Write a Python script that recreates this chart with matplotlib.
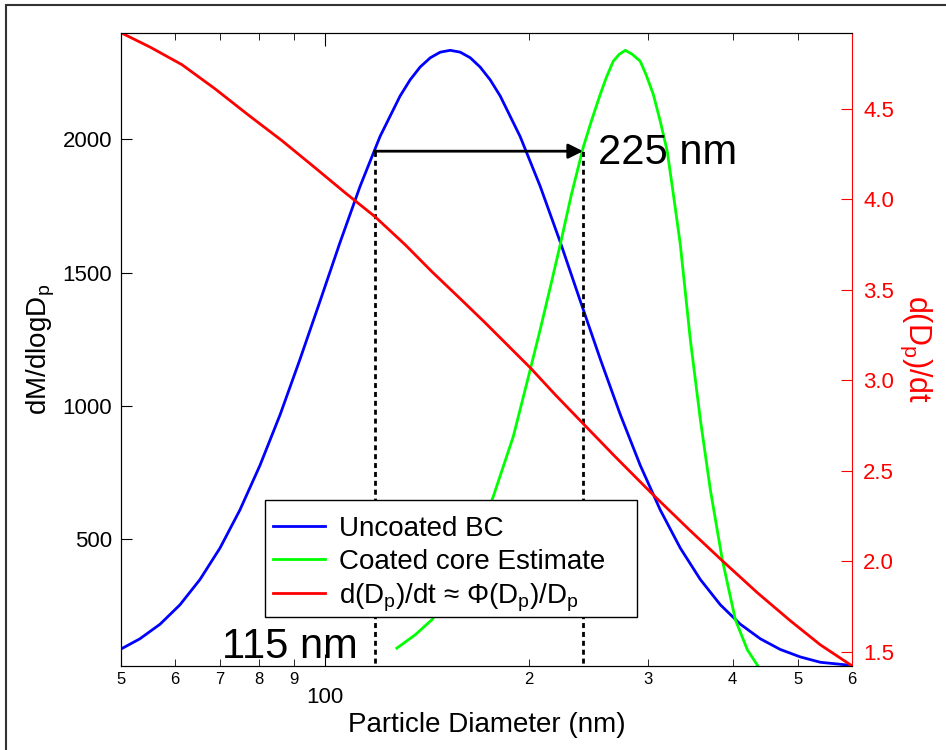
import matplotlib
matplotlib.use("Agg")
import matplotlib.pyplot as plt
from matplotlib.patches import Rectangle

plt.rcParams['font.family'] = ['Liberation Sans', 'DejaVu Sans']
plt.rcParams['mathtext.fontset'] = 'custom'
plt.rcParams['mathtext.rm'] = 'Liberation Sans'
plt.rcParams['mathtext.it'] = 'Liberation Sans'

# Uncoated BC (dM/dlogDp)
d_blue = [50.1, 53.3, 57.1, 61.1, 65.4, 70.0, 74.9, 80.2, 85.9, 91.9, 98.4,
          105.3, 112.7, 120.6, 129.1, 133.6, 138.2, 143.1, 148.0, 153.1,
          158.4, 163.9, 169.5, 175.4, 181.5, 194.2, 207.9, 222.6, 238.2,
          255.0, 272.9, 292.1, 312.7, 334.7, 358.3, 383.5, 410.5, 439.5,
          470.3, 503.4, 538.8, 600]
m_blue = [87, 124, 179, 252, 347, 465, 608, 776, 967, 1175, 1394,
          1614, 1824, 2011, 2163, 2224, 2272, 2307, 2328, 2335,
          2328, 2307, 2272, 2224, 2163, 2011, 1824, 1614, 1394,
          1175, 967, 776, 608, 465, 347, 252, 179, 124,
          84, 56, 36, 24]

# Coated core estimate
d_green = [127.7, 135.9, 143.9, 153.1, 160.0, 166.7, 177.2, 189.7, 201.0,
           207.9, 215.1, 222.6, 231.0, 240.6, 247.3, 251.5, 255.0, 260.3,
           266.5, 272.0, 277.6, 284.3, 292.1, 298.2, 305.3, 312.7, 320.2,
           326.9, 334.7, 346.3, 358.3, 370.7, 386.1, 403.6, 420.4, 436.5]
m_green = [89, 139, 196, 293, 372, 481, 658, 884, 1136,
           1286, 1444, 1606, 1790, 1970, 2068, 2124, 2170, 2233,
           2294, 2320, 2335, 2320, 2294, 2241, 2170, 2068, 1955,
           1794, 1606, 1248, 948, 684, 421, 196, 83, 19]

# d(Dp)/dt, right axis
d_red = [50.1, 55.2, 61.5, 68.8, 77.0, 86.4, 96.7, 107.1, 118.6, 131.4,
         143.9, 158.4, 172.4, 187.7, 201.0, 218.8, 240.6, 268.3, 304.2,
         346.3, 386.1, 435.0, 486.6, 538.8, 600]
g_red = [4.920, 4.842, 4.745, 4.612, 4.468, 4.325, 4.175, 4.037, 3.904, 3.749,
         3.600, 3.451, 3.318, 3.180, 3.069, 2.920, 2.760, 2.577, 2.372,
         2.168, 2.002, 1.825, 1.670, 1.537, 1.421]

# markierte Durchmesser
d_start = 118.5
d_end = 240.5
m_arrow = 1956

x_minor = [50, 60, 70, 80, 90, 200, 300, 400, 500, 600]
x_minor_labels = ['5', '6', '7', '8', '9', '2', '3', '4', '5', '6']
y_left_ticks = [500, 1000, 1500, 2000]
y_right_ticks = [1.5, 2.0, 2.5, 3.0, 3.5, 4.0, 4.5]

fig = plt.figure(figsize=(9.46, 7.5), dpi=100)
ax = fig.add_axes([121/946, 1 - 666/750, (852 - 121)/946, (666 - 33)/750])
ax2 = ax.twinx()

# Rahmen um die ganze Grafik
fig.patches.append(Rectangle((6/946, -0.1), 1.2, 1 - 5/750 + 0.1,
                             transform=fig.transFigure, fill=False,
                             edgecolor='#333333', linewidth=1.5))

l1, = ax.plot(d_blue, m_blue, color='#0000ff', lw=2, label='Uncoated BC')
l2, = ax.plot(d_green, m_green, color='#00ff00', lw=2,
              label='Coated core Estimate')
l3, = ax2.plot(d_red, g_red, color='#ff0000', lw=2,
               label=r'd(D$_\mathrm{p}$)/dt ≈ Φ(D$_\mathrm{p}$)/D$_\mathrm{p}$')

ax.vlines([d_start, d_end], 0, m_arrow, colors='black', lw=2,
          linestyles=(0, (1.8, 1.4)))
ax.annotate('', xy=(d_end, m_arrow), xytext=(d_start, m_arrow),
            arrowprops=dict(arrowstyle='-|>', color='black', lw=2,
                            mutation_scale=22, shrinkA=0, shrinkB=0))
ax.text(253, 1906, '225 nm', fontsize=30, ha='left', va='baseline')
ax.text(112, 52, '115 nm', fontsize=30, ha='right', va='baseline')

ax.set_xscale('log')
ax.set_xlim(50, 600)
ax.set_ylim(22, 2400)
ax2.set_ylim(1.42, 4.92)

ax.set_xticks([100], ['100'])
ax.set_xticks(x_minor, x_minor_labels, minor=True)
ax.tick_params(axis='x', which='minor', direction='in', top=True,
               length=5, labelsize=12, pad=4)
ax.tick_params(axis='x', which='major', direction='in', top=True,
               length=9, labelsize=16, pad=15)
ax.set_yticks(y_left_ticks)
ax.tick_params(axis='y', direction='in', length=8, labelsize=16, pad=6.5,
               right=False)

ax2.set_yticks(y_right_ticks, ['%.1f' % v for v in y_right_ticks])
ax2.tick_params(axis='y', direction='in', length=8, labelsize=16, pad=8,
                colors='#ff0000')
ax2.spines['right'].set_color('#ff0000')
ax.spines['right'].set_visible(False)

ax.set_xlabel('Particle Diameter (nm)', fontsize=20, labelpad=3)
ax.set_ylabel(r'dM/dlogD$_\mathrm{p}$', fontsize=20, labelpad=4)
ax2.set_ylabel(r'd(D$_\mathrm{p}$)/dt', fontsize=22, color='#ff0000',
               rotation=270, labelpad=28)

# Legende: Rahmen separat, damit Abstaende wie im Original passen
ax2.add_patch(Rectangle((0.197, 0.0774), 0.5089, 0.1848,
                        transform=ax2.transAxes, facecolor='white',
                        edgecolor='black', linewidth=1, zorder=4.9))
leg = ax2.legend(handles=[l1, l2, l3], loc='upper left',
                 bbox_to_anchor=(0.2075, 0.237), borderaxespad=0,
                 fontsize=20, frameon=False, handlelength=1.9,
                 handletextpad=0.5, labelspacing=0.24, borderpad=0)
leg.set_zorder(5)

fig.savefig('out.png', dpi=100)
